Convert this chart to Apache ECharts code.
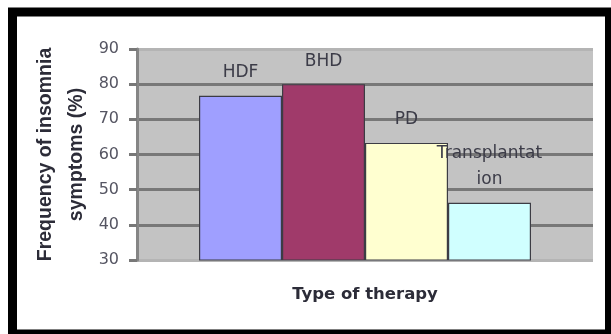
<!DOCTYPE html>
<html>
<head>
<meta charset="utf-8">
<script src="https://cdn.jsdelivr.net/npm/echarts@6/dist/echarts.min.js"></script>
<style>
  html, body { margin: 0; padding: 0; background: #ffffff; }
  #chart { width: 611px; height: 334px; }
</style>
</head>
<body>
<div id="chart"></div>
<script>
// Therapy groups and the share of patients reporting insomnia symptoms (%)
const therapies = ['HDF', 'BHD', 'PD', 'Transplantation'];
const therapyLabels = ['HDF', 'BHD', 'PD', 'Transplantat\nion'];
const insomniaPct = [76.7, 80, 63.3, 46.3];
const barColors = ['#9f9fff', '#a03a6a', '#ffffd0', '#d0ffff'];
const yTicks = [30, 40, 50, 60, 70, 80, 90];

const chart = echarts.init(document.getElementById('chart'), null, { renderer: 'canvas' });

const gridLineColors = yTicks.map((v, i) =>
  (i === 0 || i === yTicks.length - 1) ? '#b4b4b4' : '#787878');

const series = therapies.map((name, i) => {
  const twoLines = therapyLabels[i].indexOf('\n') >= 0;
  return {
    name: name,
    type: 'bar',
    data: [insomniaPct[i]],
    barWidth: 83,
    barGap: '0%',
    itemStyle: { color: barColors[i], borderColor: '#3c3c44', borderWidth: 1.2 },
    label: {
      show: true,
      position: 'top',
      distance: twoLines ? 10 : 14,
      formatter: therapyLabels[i],
      fontFamily: 'DejaVu Sans',
      fontSize: 17,
      lineHeight: twoLines ? 26 : 18,
      color: '#3c3c48'
    }
  };
});

chart.setOption({
  animation: false,
  backgroundColor: '#ffffff',
  grid: {
    left: 137, right: 18, top: 49, bottom: 74,
    show: true, backgroundColor: '#c3c3c3', borderWidth: 0
  },
  xAxis: {
    type: 'category',
    data: [''],
    axisLine: { show: false },
    axisTick: { show: false },
    axisLabel: { show: false },
    name: 'Type of therapy',
    nameLocation: 'middle',
    nameGap: 26,
    nameTextStyle: {
      fontFamily: 'DejaVu Sans', fontWeight: 'bold', fontSize: 16.5,
      color: '#2c2c38', lineHeight: 18
    }
  },
  yAxis: {
    type: 'value',
    min: yTicks[0],
    max: yTicks[yTicks.length - 1],
    interval: 10,
    axisLine: { show: true, lineStyle: { color: '#858585', width: 3 } },
    axisTick: { show: true, inside: false, length: 8, lineStyle: { color: '#787878', width: 3 } },
    axisLabel: {
      margin: 18,
      fontFamily: 'DejaVu Sans', fontSize: 16, color: '#555562'
    },
    splitLine: { show: true, lineStyle: { color: gridLineColors, width: 3 } },
    name: 'Frequency of insomnia\nsymptoms (%)',
    nameLocation: 'middle',
    nameRotate: 90,
    nameGap: 45,
    nameMoveOverlap: false,
    nameTextStyle: {
      fontFamily: 'Liberation Sans', fontWeight: 'bold', fontSize: 19.5,
      color: '#2c2c38', lineHeight: 31
    }
  },
  series: series,
  graphic: [{
    type: 'rect',
    silent: true,
    z: 100,
    shape: { x: 12.5, y: 12, width: 597, height: 322 },
    style: { fill: null, stroke: '#000000', lineWidth: 9 }
  }]
});
</script>
</body>
</html>
